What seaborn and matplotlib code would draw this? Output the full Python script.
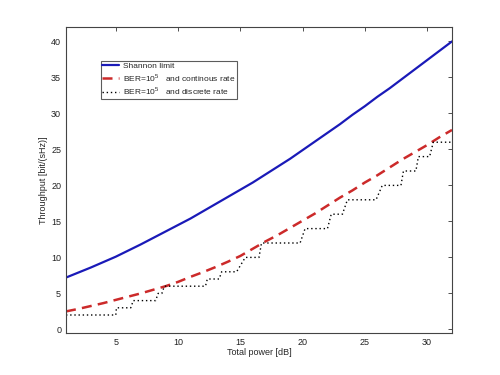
import numpy as np
import pandas as pd
import matplotlib
matplotlib.use("Agg")
import matplotlib.pyplot as plt
import seaborn as sns

# ---- data ----
power_db = list(range(1, 33))
shannon = [7.2, 7.9, 8.6, 9.35, 10.1, 10.95, 11.8, 12.7, 13.6, 14.5, 15.4, 16.4,
           17.4, 18.4, 19.4, 20.4, 21.5, 22.6, 23.7, 24.9, 26.1, 27.3, 28.5, 29.8,
           31.0, 32.3, 33.5, 34.8, 36.1, 37.4, 38.7, 40.0]
cont_rate = [2.5, 2.85, 3.25, 3.65, 4.1, 4.55, 5.0, 5.5, 6.0, 6.6, 7.3, 7.95,
             8.65, 9.4, 10.2, 11.2, 12.2, 13.1, 14.1, 15.1, 16.1, 17.2, 18.3, 19.3,
             20.4, 21.4, 22.5, 23.6, 24.6, 25.6, 26.7, 27.7]
# discrete rate: each level with the power range where it holds
level_start = [1.0, 5.05, 6.4, 8.4, 8.9, 12.35, 13.5, 15.4, 16.7, 20.2, 22.3, 23.6, 26.4, 28.1, 29.3, 30.5]
level_end   = [5.0, 6.2, 8.2, 8.7, 12.2, 13.3, 14.7, 16.5, 19.8, 22.0, 23.2, 25.9, 27.9, 29.1, 30.2, 32.0]
level_value = [2, 3, 4, 5, 6, 7, 8, 10, 12, 14, 16, 18, 20, 22, 24, 26]

labels = ["Shannon limit",
          "BER=10$^5$   and continous rate",
          "BER=10$^5$   and discrete rate"]
x_ticks = [5, 10, 15, 20, 25, 30]
y_ticks = [0, 5, 10, 15, 20, 25, 30, 35, 40]

# ---- build tables ----
df_sh = pd.DataFrame({"x": power_db, "y": shannon})
df_ct = pd.DataFrame({"x": power_db, "y": cont_rate})
dx, dy = [], []
for s, e, v in zip(level_start, level_end, level_value):
    dx += [s, e]
    dy += [v, v]
df_ds = pd.DataFrame({"x": dx, "y": dy})

sns.set_style("white")
plt.rcParams["font.family"] = ["Liberation Sans", "DejaVu Sans"]
plt.rcParams["mathtext.fontset"] = "custom"
plt.rcParams["mathtext.rm"] = "Liberation Sans"

fig = plt.figure(figsize=(5, 3.75), dpi=100)
ax = fig.add_axes([0.132, 0.112, 0.772, 0.816])

sns.lineplot(data=df_sh, x="x", y="y", ax=ax, color="#1a1ab8", lw=1.6,
             estimator=None, sort=False, label=labels[0])
sns.lineplot(data=df_ct, x="x", y="y", ax=ax, color="#cc2a2a", lw=1.8,
             estimator=None, sort=False, label=labels[1], dashes=False,
             linestyle=(0, (4, 2.5)))
sns.lineplot(data=df_ds, x="x", y="y", ax=ax, color="black", lw=1.0,
             estimator=None, sort=False, label=labels[2], dashes=False,
             linestyle=(0, (1, 2)))

ax.set_xlim(1, 32)
ax.set_ylim(-0.5, 42)
ax.set_xticks(x_ticks)
ax.set_yticks(y_ticks)
ax.tick_params(direction="in", length=3, width=0.6, labelsize=6.5,
               top=True, right=True, colors="#333333", labelcolor="#222222")
for sp in ax.spines.values():
    sp.set_visible(True)
    sp.set_color("#444444")
    sp.set_linewidth(0.8)
ax.set_xlabel("Total power [dB]", fontsize=6.5, labelpad=1)
ax.set_ylabel("Throughput [bit/(sHz)]", fontsize=6.5, labelpad=2)

leg = ax.legend(loc="upper left", bbox_to_anchor=(0.09, 0.89), fontsize=6,
                frameon=True, fancybox=False, borderpad=0.2, labelspacing=0.2,
                handlelength=2.0, handletextpad=0.5, borderaxespad=0)
leg.get_frame().set_edgecolor("#333333")
leg.get_frame().set_linewidth(0.8)

fig.savefig("out.png", dpi=100, facecolor="white")
